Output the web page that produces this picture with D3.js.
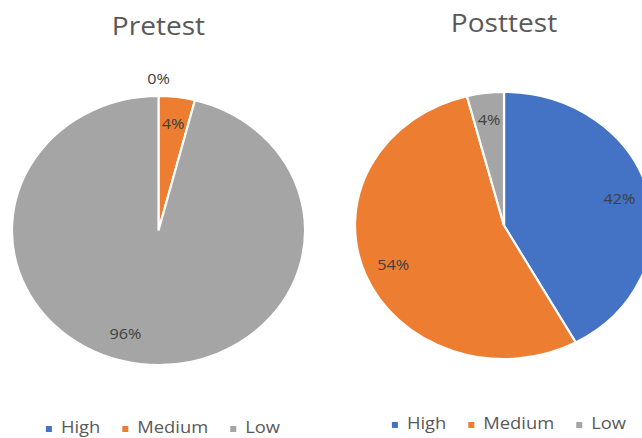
<!DOCTYPE html>
<html>
<head>
<meta charset="utf-8">
<script src="https://cdn.jsdelivr.net/npm/d3@7"></script>
<style>
body { margin: 0; background: #fff; }
text { font-family: "Open Sans", sans-serif; }
</style>
</head>
<body>
<script>
var width = 642, height = 438;

var categories = ["High", "Medium", "Low"];
var pretest = [0, 4, 96];
var posttest = [42, 54, 4];
var titles = ["Pretest", "Posttest"];

var colors = ["#4472C4", "#ED7D31", "#A5A5A5"];
var stretch = 1.08; // the picture is a bit wider than tall

var charts = [
    {title: titles[0], values: pretest, cx: 158.5, cy: 230.5, rx: 146.5, ry: 134.5, titleY: 35, legendY: 433, legendX: 163},
    {title: titles[1], values: posttest, cx: 504, cy: 225.5, rx: 149, ry: 133.5, titleY: 32, legendY: 429, legendX: 509}
];

var svg = d3.select("body")
.append("svg")
.attr("width", width)
.attr("height", height)
.attr("id", "svg");

var pie = d3.pie().sort(null).value(function(d){ return d; });

charts.forEach(function(c, ci){
    var g = svg.append("g").attr("class", "chart");

    g.append("text")
    .attr("transform", "translate(" + c.cx + "," + c.titleY + ") scale(" + stretch + ",1)")
    .attr("text-anchor", "middle")
    .attr("font-size", 26)
    .attr("fill", "#595959")
    .text(c.title);

    var arcs = pie(c.values);
    var arc = d3.arc().innerRadius(0).outerRadius(c.ry);

    var pg = g.append("g")
    .attr("transform", "translate(" + c.cx + "," + c.cy + ") scale(" + (c.rx / c.ry) + ",1)");

    pg.selectAll(".slice")
    .data(arcs)
    .enter().append("path")
    .attr("class", "slice")
    .attr("d", arc)
    .attr("fill", function(d, i){ return colors[i]; })
    .attr("stroke", "#fff")
    .attr("stroke-width", 2);

    // labels, placed on the ellipse at the slice mid angle
    g.selectAll(".lbl")
    .data(arcs)
    .enter().append("text")
    .attr("class", "lbl")
    .attr("transform", function(d){
        var a = (d.startAngle + d.endAngle) / 2;
        var f = d.value === 0 ? 1.13 : 0.8;
        if (d.value > 90) a += 0.16;
        var x = c.cx + Math.sin(a) * c.rx * f;
        var y = c.cy - Math.cos(a) * c.ry * f + 5;
        return "translate(" + x + "," + y + ") scale(" + stretch + ",1)";
    })
    .attr("text-anchor", "middle")
    .attr("font-size", 15)
    .attr("fill", "#404040")
    .text(function(d){ return d.value + "%"; });

    // legend
    var lg = g.append("g").attr("class", "legend");
    var items = lg.selectAll(".item")
    .data(categories)
    .enter().append("g")
    .attr("class", "item");

    items.append("rect")
    .attr("width", 6)
    .attr("height", 6)
    .attr("y", -7)
    .attr("fill", function(d, i){ return colors[i]; });

    items.append("text")
    .attr("transform", "translate(15,0) scale(" + stretch + ",1)")
    .attr("font-size", 17)
    .attr("fill", "#595959")
    .text(function(d){ return d; });

    var x = 0;
    items.each(function(){
        var t = d3.select(this).select("text").node();
        d3.select(this).attr("transform", "translate(" + x + ",0)");
        x += 15 + t.getComputedTextLength() * stretch + 22;
    });
    var total = x - 22;
    lg.attr("transform", "translate(" + (c.legendX - total / 2) + "," + c.legendY + ")");
});
</script>
</body>
</html>
